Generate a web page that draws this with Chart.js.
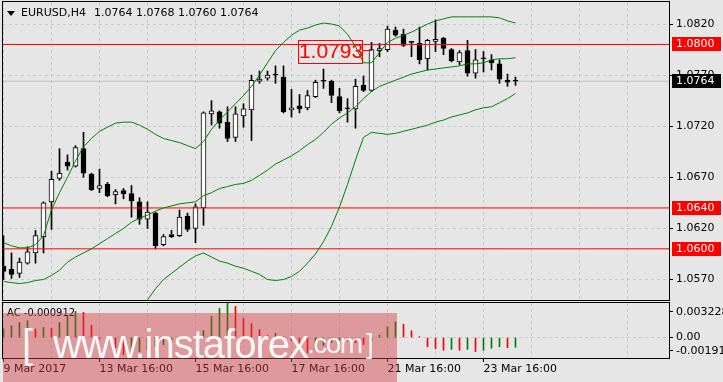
<!DOCTYPE html>
<html>
<head>
<meta charset="utf-8">
<script src="https://cdn.jsdelivr.net/npm/chart.js@4.4.0/dist/chart.umd.min.js"></script>
<style>
  html, body { margin: 0; padding: 0; background: #e6e6e6; }
  #wrap { position: relative; width: 723px; height: 382px; overflow: hidden; background: #e6e6e6; font-family: "DejaVu Sans", sans-serif; }
  canvas { position: absolute; left: 0; }
  #price { top: 0; }
  #osc { top: 302px; }
  .txt { position: absolute; white-space: pre; color: #000; }
  #tri { position: absolute; left: 7px; top: 11px; width: 0; height: 0; border-left: 4px solid transparent; border-right: 4px solid transparent; border-top: 5px solid #000; }
  #mark { position: absolute; left: 3px; top: 313px; width: 394px; height: 69px; background: rgba(210, 60, 65, 0.45); overflow: hidden; }
  #mark span { position: absolute; white-space: pre; color: rgba(255, 255, 255, 0.92); font-family: "Liberation Sans", sans-serif; line-height: 1; }
</style>
</head>
<body>
<div id="wrap">
  <canvas id="price" width="723" height="302"></canvas>
  <canvas id="osc" width="723" height="80"></canvas>
  <div id="tri"></div>
  <div class="txt" style="left:21px; top:6px; font-size:11px; line-height:13px;">EURUSD,H4</div>
  <div class="txt" style="left:94px; top:6px; font-size:11px; line-height:13px;">1.0764 1.0768 1.0760 1.0764</div>
  <div class="txt" style="left:7px; top:307px; font-size:10px; line-height:12px;">AC -0.000912</div>
  <div id="mark">
    <span style="left:19px; top:11px; font-size:40px;">[</span>
    <span style="left:50px; top:11px; font-size:40px; letter-spacing:-1px;">www.instaforex</span>
    <span style="left:304px; top:17px; font-size:28px; letter-spacing:-1.5px;">.com</span>
    <span style="left:363px; top:17px; font-size:28px;">]</span>
  </div>
</div>
<script>
// EURUSD H4, one entry per candle
const opens  = [1.0583,1.0580,1.0576,1.0586,1.0596,1.0612,1.0646,1.0669,1.0685,1.0681,
                1.0698,1.0673,1.0659,1.0663,1.0653,1.0657,1.0654,1.0646,1.0629,1.0635,
                1.0604,1.0614,1.0613,1.0632,1.0620,1.0640,1.0732,1.0734,1.0724,1.0709,
                1.0730,1.0736,1.0764,1.0767,1.0770,1.0768,1.0736,1.0740,1.0738,1.0749,
                1.0764,1.0764,1.0749,1.0737,1.0737,1.0760,1.0755,1.0794,1.0795,1.0814,
                1.0810,1.0802,1.0801,1.0786,1.0803,1.0806,1.0795,1.0783,1.0794,1.0772,
                1.0786,1.0785,1.0781,1.0765,1.0764];
const highs  = [1.0613,1.0596,1.0591,1.0602,1.0618,1.0646,1.0676,1.0698,1.0692,1.0701,
                1.0714,1.0674,1.0678,1.0665,1.0658,1.0659,1.0662,1.0650,1.0646,1.0636,
                1.0614,1.0618,1.0638,1.0635,1.0644,1.0734,1.0745,1.0735,1.0739,1.0739,
                1.0742,1.0770,1.0774,1.0774,1.0779,1.0779,1.0756,1.0751,1.0755,1.0765,
                1.0776,1.0765,1.0757,1.0747,1.0766,1.0769,1.0802,1.0801,1.0818,1.0817,
                1.0815,1.0803,1.0817,1.0805,1.0824,1.0807,1.0796,1.0794,1.0804,1.0795,
                1.0793,1.0790,1.0785,1.0771,1.0768];
const lows   = [1.0570,1.0571,1.0572,1.0585,1.0586,1.0596,1.0619,1.0667,1.0677,1.0680,
                1.0670,1.0657,1.0655,1.0651,1.0644,1.0649,1.0631,1.0624,1.0620,1.0600,
                1.0603,1.0611,1.0612,1.0617,1.0606,1.0623,1.0721,1.0718,1.0705,1.0705,
                1.0719,1.0706,1.0762,1.0765,1.0762,1.0733,1.0729,1.0733,1.0736,1.0748,
                1.0757,1.0743,1.0733,1.0724,1.0718,1.0754,1.0754,1.0788,1.0793,1.0808,
                1.0798,1.0788,1.0781,1.0775,1.0793,1.0790,1.0783,1.0780,1.0769,1.0767,
                1.0773,1.0775,1.0762,1.0759,1.0760];
const closes = [1.0578,1.0575,1.0587,1.0597,1.0613,1.0645,1.0668,1.0674,1.0681,1.0699,
                1.0674,1.0658,1.0662,1.0652,1.0656,1.0654,1.0647,1.0629,1.0636,1.0603,
                1.0612,1.0612,1.0631,1.0619,1.0641,1.0733,1.0735,1.0723,1.0708,1.0732,
                1.0737,1.0765,1.0766,1.0770,1.0770,1.0734,1.0738,1.0737,1.0750,1.0763,
                1.0764,1.0750,1.0735,1.0737,1.0759,1.0755,1.0795,1.0796,1.0815,1.0809,
                1.0799,1.0802,1.0785,1.0804,1.0805,1.0796,1.0784,1.0792,1.0772,1.0785,
                1.0786,1.0782,1.0766,1.0763,1.0764];

// Bollinger bands
const bbUpper  = [1.0606,1.0603,1.0601,1.0601,1.0604,1.0613,1.0638,1.0655,1.0670,1.0686,
                  1.0700,1.0708,1.0715,1.0719,1.0723,1.0724,1.0724,1.0721,1.0717,1.0712,
                  1.0708,1.0706,1.0704,1.0701,1.0698,1.0705,1.0717,1.0726,1.0734,1.0742,
                  1.0750,1.0759,1.0770,1.0782,1.0794,1.0802,1.0809,1.0814,1.0816,1.0819,
                  1.0821,1.0820,1.0818,1.0810,1.0798,1.0782,1.0782,1.0792,1.0802,1.0806,
                  1.0809,1.0812,1.0816,1.0820,1.0823,1.0825,1.0827,1.0827,1.0827,1.0827,
                  1.0827,1.0827,1.0826,1.0823,1.0821];
const bbMiddle = [1.0568,1.0567,1.0566,1.0567,1.0569,1.0570,1.0574,1.0579,1.0587,1.0592,
                  1.0596,1.0600,1.0605,1.0610,1.0615,1.0620,1.0626,1.0630,1.0633,1.0637,
                  1.0640,1.0642,1.0644,1.0645,1.0646,1.0652,1.0655,1.0659,1.0661,1.0663,
                  1.0664,1.0667,1.0672,1.0677,1.0683,1.0687,1.0691,1.0696,1.0702,1.0707,
                  1.0714,1.0722,1.0728,1.0733,1.0739,1.0747,1.0754,1.0759,1.0762,1.0765,
                  1.0768,1.0771,1.0773,1.0775,1.0776,1.0777,1.0778,1.0779,1.0781,1.0781,
                  1.0782,1.0785,1.0786,1.0786,1.0787];
const bbLower  = [1.0530,1.0530,1.0532,1.0532,1.0533,1.0527,1.0511,1.0504,1.0504,1.0498,
                  1.0492,1.0491,1.0494,1.0500,1.0506,1.0517,1.0528,1.0539,1.0550,1.0561,
                  1.0570,1.0576,1.0582,1.0588,1.0593,1.0596,1.0592,1.0588,1.0586,1.0583,
                  1.0581,1.0578,1.0575,1.0570,1.0569,1.0570,1.0573,1.0578,1.0586,1.0595,
                  1.0607,1.0622,1.0641,1.0663,1.0687,1.0709,1.0714,1.0713,1.0712,1.0713,
                  1.0715,1.0717,1.0719,1.0721,1.0724,1.0726,1.0729,1.0731,1.0733,1.0736,
                  1.0738,1.0739,1.0743,1.0747,1.0752];

// Accelerator oscillator
const acValues = [0.00078,0.00110,0.00141,0.00157,0.00078,0.00094,0.00087,0.00141,0.00204,0.00244,
                  0.00235,0.00115,-0.00009,-0.00047,-0.00094,-0.00160,-0.00147,-0.00131,-0.00113,-0.00085,
                  -0.00066,-0.00047,-0.00028,-0.00016,-0.00005,0.00066,0.00197,0.00272,0.003228,0.00291,
                  0.00178,0.00131,0.00075,0.00019,0.00040,0.00009,-0.00028,-0.00063,-0.00141,-0.00113,
                  -0.00075,-0.00047,-0.00023,-0.00031,-0.00047,-0.00066,-0.00028,0.00022,0.00100,0.00147,
                  0.00125,0.00063,0.00009,-0.00087,-0.00103,-0.00119,-0.00110,-0.00119,-0.00110,-0.00131,
                  -0.00119,-0.00100,-0.00087,-0.00095,-0.000912];

const priceTicks = [1.0570, 1.0620, 1.0670, 1.0720, 1.0770, 1.0820];
const dateLabels = ['9 Mar 2017', '13 Mar 16:00', '15 Mar 16:00', '17 Mar 16:00', '21 Mar 16:00', '23 Mar 16:00'];
const levels = [1.0800, 1.0640, 1.0600];
const lastPrice = 1.0764;
const markPrice = 1.0793;
const acMin = -0.00191, acMax = 0.003228;
const acTickLabels = ['0.003228', '0.00', '-0.00191'];
const acTickAt = [0.00239, 0, -0.00125];

const xMin = -0.0625, xMax = 83.1875;
const priceMin = 1.054994, priceMax = 1.084153;
const gridColor = '#c8c8c8';
const green = '#008000';
const font = { family: 'DejaVu Sans', size: 11 };

Chart.defaults.font.family = 'DejaVu Sans';
Chart.defaults.font.size = 11;

function timeTicks(scale) {
  const t = [];
  for (let v = 0; v <= xMax; v += 6) t.push({ value: v });
  scale.ticks = t;
}
// keep the plot box fixed: no extra room for edge labels
function fixBox(size) {
  return s => {
    if (s.isHorizontal()) s.height = size; else s.width = size;
    s.paddingTop = 0; s.paddingBottom = 0; s.paddingLeft = 0; s.paddingRight = 0;
  };
}
const pts = arr => arr.map((v, i) => ({ x: i, y: v }));
const flat = v => [{ x: xMin, y: v }, { x: xMax, y: v }];

const framePlugin = {
  id: 'frame',
  afterDraw(chart) {
    const a = chart.chartArea, ctx = chart.ctx;
    ctx.save();
    ctx.strokeStyle = '#000';
    ctx.lineWidth = 1;
    ctx.strokeRect(a.left - 0.5, a.top - 0.5, a.right - a.left + 1, a.bottom - a.top + 1);
    ctx.restore();
  }
};

const tagsPlugin = {
  id: 'tags',
  afterDraw(chart) {
    const ctx = chart.ctx, y = chart.scales.y, x = chart.scales.x, a = chart.chartArea;
    ctx.save();
    function tag(v, color) {
      const py = Math.round(y.getPixelForValue(v));
      ctx.fillStyle = color;
      ctx.fillRect(a.right + 3, py - 7, 49, 14);
      ctx.fillStyle = '#fff';
      ctx.font = '11px "DejaVu Sans"';
      ctx.textBaseline = 'middle';
      ctx.fillText(v.toFixed(4), a.right + 7, py + 0.5);
    }
    levels.forEach(l => tag(l, '#ff0000'));
    tag(lastPrice, '#000000');

    // price note pointing at the breakout candle
    const l = Math.round(x.getPixelForValue(36.85)), r = Math.round(x.getPixelForValue(44.8));
    const t = Math.round(y.getPixelForValue(markPrice + 0.00115)), b = Math.round(y.getPixelForValue(markPrice - 0.00115));
    const my = Math.round(y.getPixelForValue(markPrice + 0.00015));
    ctx.strokeStyle = '#ff0000';
    ctx.lineWidth = 1;
    ctx.strokeRect(l + 0.5, t + 0.5, r - l, b - t);
    ctx.beginPath();
    ctx.moveTo(r + 1, my + 0.5);
    ctx.lineTo(Math.round(x.getPixelForValue(46)), my + 0.5);
    ctx.stroke();
    ctx.fillStyle = '#ff0000';
    ctx.font = '21px "Liberation Sans"';
    ctx.textAlign = 'center';
    ctx.textBaseline = 'middle';
    ctx.fillText(markPrice.toFixed(4), (l + r) / 2 + 1, (t + b) / 2 + 1);
    ctx.restore();
  }
};

new Chart(document.getElementById('price'), {
  type: 'bar',
  data: {
    datasets: [
      { type: 'line', data: pts(bbUpper), borderColor: green, borderWidth: 1, pointRadius: 0, order: 0 },
      { type: 'line', data: pts(bbMiddle), borderColor: green, borderWidth: 1, pointRadius: 0, order: 0 },
      { type: 'line', data: pts(bbLower), borderColor: green, borderWidth: 1, pointRadius: 0, order: 0 },
      ...levels.map(l => ({ type: 'line', data: flat(l), borderColor: '#ff0000', borderWidth: 1, pointRadius: 0, order: 1 })),
      {
        type: 'bar',
        data: opens.map((o, i) => ({ x: i, y: [o, closes[i]] })),
        backgroundColor: opens.map((o, i) => closes[i] > o ? '#ffffff' : '#000000'),
        borderColor: '#000', borderWidth: 1, borderSkipped: false,
        barThickness: 5, minBarLength: 1, grouped: false, order: 2
      },
      {
        type: 'bar',
        data: lows.map((lo, i) => ({ x: i, y: [lo, highs[i]] })),
        backgroundColor: '#000', barThickness: 1, grouped: false, order: 3
      },
      { type: 'line', data: flat(lastPrice), borderColor: '#c0c0c0', borderWidth: 1, pointRadius: 0, order: 4 }
    ]
  },
  options: {
    responsive: false,
    animation: false,
    events: [],
    layout: { padding: { left: 3, top: 2, right: 0, bottom: 2 } },
    plugins: { legend: { display: false }, tooltip: { enabled: false } },
    scales: {
      x: {
        type: 'linear', min: xMin, max: xMax, offset: false,
        afterBuildTicks: timeTicks,
        afterFit: fixBox(0),
        ticks: { display: false },
        grid: { color: gridColor, drawTicks: false, offset: false },
        border: { display: false, dash: [3, 3] }
      },
      y: {
        position: 'right', min: priceMin, max: priceMax,
        afterBuildTicks: s => { s.ticks = priceTicks.map(v => ({ value: v })); },
        afterFit: fixBox(54),
        ticks: { color: '#000', font: font, padding: 3, callback: v => v.toFixed(4) },
        grid: { color: gridColor, tickLength: 4, tickColor: '#000' },
        border: { display: true, color: '#000', dash: [3, 3] }
      }
    }
  },
  plugins: [framePlugin, tagsPlugin]
});

new Chart(document.getElementById('osc'), {
  type: 'bar',
  data: {
    datasets: [{
      data: acValues.map((v, i) => ({ x: i, y: v })),
      backgroundColor: acValues.map((v, i) => i === 0 || v > acValues[i - 1] ? green : '#ff0000'),
      barThickness: 1, grouped: false
    }]
  },
  options: {
    responsive: false,
    animation: false,
    events: [],
    layout: { padding: { left: 3, top: 1, right: 0, bottom: 0 } },
    plugins: { legend: { display: false }, tooltip: { enabled: false } },
    scales: {
      x: {
        type: 'linear', min: xMin, max: xMax, offset: false,
        afterBuildTicks: timeTicks,
        afterFit: fixBox(24),
        ticks: {
          autoSkip: false, maxRotation: 0, align: 'start', padding: 1, color: '#000', font: font,
          callback: v => v % 12 === 0 ? dateLabels[v / 12] : ''
        },
        grid: {
          color: gridColor, offset: false, tickLength: 4,
          tickColor: c => c.tick && c.tick.value % 12 === 0 ? '#000' : 'rgba(0,0,0,0)'
        },
        border: { display: true, color: '#000', dash: [3, 3] }
      },
      y: {
        position: 'right', min: acMin, max: acMax,
        afterBuildTicks: s => { s.ticks = acTickAt.map(v => ({ value: v })); },
        afterFit: fixBox(54),
        ticks: { color: '#000', font: font, padding: 3, callback: (v, i) => acTickLabels[i] },
        grid: {
          color: c => c.tick && c.tick.value === 0 ? gridColor : 'rgba(0,0,0,0)',
          tickLength: 4, tickColor: '#000'
        },
        border: { display: true, color: '#000', dash: [3, 3] }
      }
    }
  },
  plugins: [framePlugin]
});
</script>
</body>
</html>
